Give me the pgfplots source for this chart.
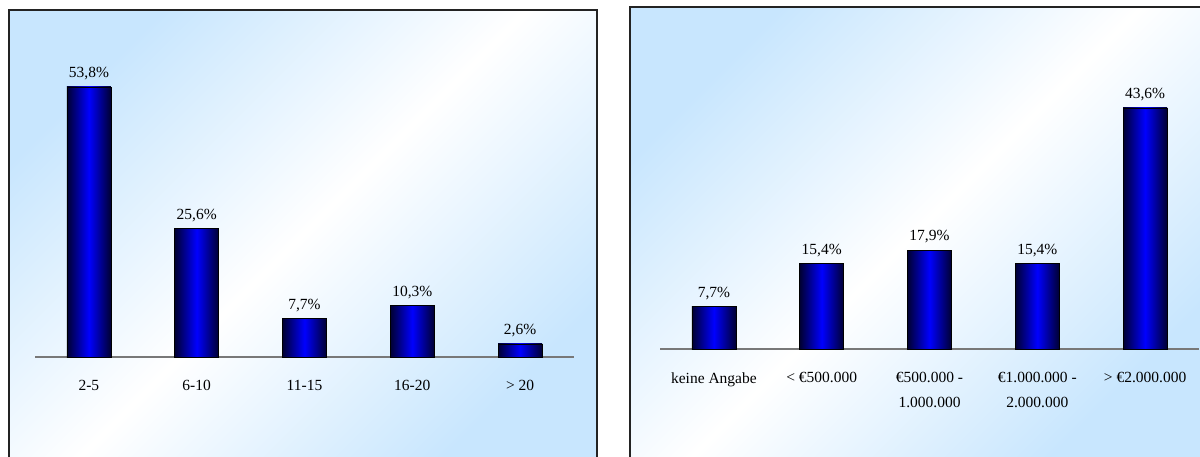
\documentclass[border=0pt]{standalone}
\usepackage{pgfplots}
\pgfplotsset{compat=1.18}
\usepackage{fontspec}
\setmainfont{Liberation Serif}

\definecolor{panelblue}{RGB}{200,230,254}
\definecolor{bardark}{RGB}{0,0,50}
\definecolor{barlight}{RGB}{0,0,255}
\definecolor{framecol}{RGB}{35,35,35}
\definecolor{basecol}{RGB}{120,120,120}

\pgfplotsset{
  panelbars/.style={
    scale only axis, width=539pt,
    xmin=-0.5, xmax=4.5, ymin=0,
    ybar, bar width=44pt, bar shift=0pt,
    axis x line*=bottom, axis y line=none,
    x axis line style={draw=basecol, line width=1.1pt},
    xtick={0,1,2,3,4}, major tick length=0pt, ytick=\empty,
    xticklabel style={font=\fontsize{15.5}{25}\selectfont, align=center, text=black, yshift=-20pt},
    clip=false,
    nodes near coords={\pgfmathprintnumber[assume math mode=true,use comma,fixed,fixed zerofill,precision=1]{\pgfplotspointmeta}\%},
    nodes near coords style={font=\fontsize{15.5}{18}\selectfont, text=black, yshift=3pt},
  },
  % each bar is its own plot so that it gets its own cylinder-like shading
  bluebar/.style={draw=black, line width=0.7pt,
    left color=bardark, right color=bardark, middle color=barlight},
}

\begin{document}
\begin{tikzpicture}
% panel backgrounds with diagonal gradient
\begin{scope}
\clip (0pt,0pt) rectangle (1200pt,456pt);
\shade[top color=panelblue, bottom color=panelblue, middle color=white, shading angle=45]
  (9pt,-2pt) rectangle (597pt,446pt);
\draw[framecol, line width=1.6pt] (9pt,-30pt) -- (9pt,446pt) -- (597pt,446pt) -- (597pt,-30pt);
\shade[top color=panelblue, bottom color=panelblue, middle color=white, shading angle=45]
  (630pt,-2pt) rectangle (1202pt,449pt);
\draw[framecol, line width=1.6pt] (630pt,-30pt) -- (630pt,449pt) -- (1240pt,449pt);
\end{scope}

% left chart: group sizes
\begin{axis}[panelbars, at={(35pt,99pt)}, anchor=south west,
  ymax=60, height=301.2pt,
  xticklabels={2-5, 6-10, 11-15, 16-20, > 20}]
\addplot[bluebar] coordinates {(0,53.8)};
\addplot[bluebar] coordinates {(1,25.6)};
\addplot[bluebar] coordinates {(2,7.7)};
\addplot[bluebar] coordinates {(3,10.3)};
\addplot[bluebar] coordinates {(4,2.6)};
\end{axis}

% right chart: volume classes
\begin{axis}[panelbars, at={(660pt,107pt)}, anchor=south west,
  ymax=50, height=276.5pt,
  xticklabels={keine Angabe, {< €500.000}, {€500.000 -\\1.000.000}, {€1.000.000 -\\2.000.000}, {> €2.000.000}}]
\addplot[bluebar] coordinates {(0,7.7)};
\addplot[bluebar] coordinates {(1,15.4)};
\addplot[bluebar] coordinates {(2,17.9)};
\addplot[bluebar] coordinates {(3,15.4)};
\addplot[bluebar] coordinates {(4,43.6)};
\end{axis}

\pgfresetboundingbox
\path[use as bounding box] (0pt,0pt) rectangle (1200pt,456pt);
\end{tikzpicture}
\end{document}
